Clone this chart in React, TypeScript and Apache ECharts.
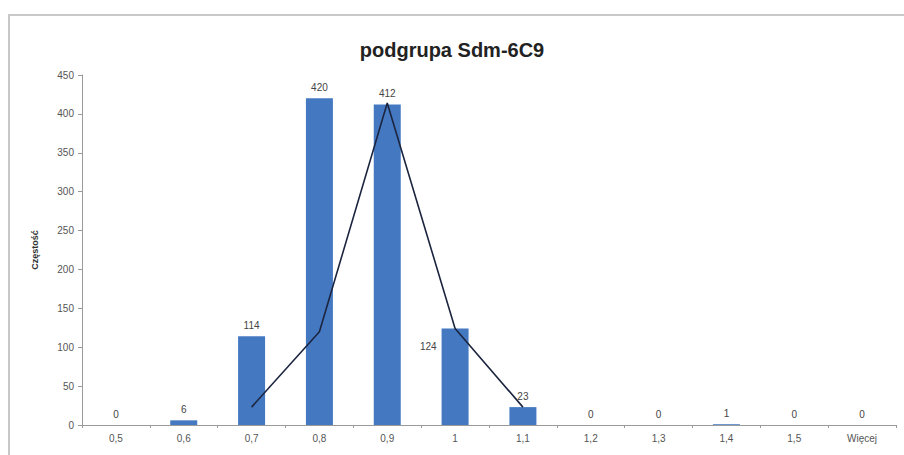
import React, { useEffect, useRef } from "react";
import * as echarts from "echarts";

const categories = ["0,5", "0,6", "0,7", "0,8", "0,9", "1", "1,1", "1,2", "1,3", "1,4", "1,5", "Więcej"];
const counts = [0, 6, 114, 420, 412, 124, 23, 0, 0, 1, 0, 0];
const lineValues: (number | null)[] = [null, null, 23, 120, 414, 124, 23, null, null, null, null, null];
const yTicks = { min: 0, max: 450, interval: 50 };
const titleText = "podgrupa Sdm-6C9";
const yName = "Częstość";

export default function App() {
  const ref = useRef<HTMLDivElement>(null);
  useEffect(() => {
    if (!ref.current) return;
    const chart = echarts.init(ref.current, null, { renderer: "svg" });
    const font = "'Liberation Sans', Arial, sans-serif";
    chart.setOption({
      animation: false,
      backgroundColor: "#ffffff",
      textStyle: { fontFamily: font },
      graphic: [
        {
          type: "rect",
          shape: { x: 9, y: 15, width: 1000, height: 1000 },
          style: { fill: "none", stroke: "#c8c8c8", lineWidth: 2 },
          silent: true,
        },
      ],
      title: {
        text: titleText,
        left: "center",
        top: 35,
        textStyle: { fontFamily: font, fontSize: 20, fontWeight: "bold", color: "#222" },
      },
      grid: { left: 82, right: 8, top: 75, bottom: 30 },
      xAxis: {
        type: "category",
        data: categories,
        axisLine: { lineStyle: { color: "#9a9a9a" } },
        axisTick: { show: true, alignWithLabel: false, length: 3, lineStyle: { color: "#9a9a9a" } },
        axisLabel: { color: "#555", fontSize: 10, margin: 8, fontFamily: font },
      },
      yAxis: {
        type: "value",
        min: yTicks.min,
        max: yTicks.max,
        interval: yTicks.interval,
        name: yName,
        nameLocation: "middle",
        nameGap: 43,
        nameRotate: 90,
        nameTextStyle: { fontSize: 9, fontWeight: "bold", color: "#333", fontFamily: font },
        axisLine: { show: true, lineStyle: { color: "#9a9a9a" } },
        axisTick: { show: true, length: 4, lineStyle: { color: "#9a9a9a" } },
        axisLabel: { color: "#555", fontSize: 10, margin: 8, fontFamily: font },
        splitLine: { show: false },
      },
      series: [
        {
          type: "bar",
          data: counts.map((v, i) =>
            i === 5
              ? {
                  value: v,
                  label: { position: [-5, 18], align: "right", verticalAlign: "middle" },
                }
              : v
          ),
          barWidth: 27,
          itemStyle: { color: "#4479c2" },
          label: {
            show: true,
            position: "top",
            distance: 6,
            fontSize: 10,
            color: "#444",
            fontFamily: font,
          },
        },
        {
          type: "line",
          data: lineValues,
          symbol: "none",
          connectNulls: false,
          lineStyle: { color: "#1c2540", width: 1.6 },
          z: 5,
        },
      ],
    });
    return () => chart.dispose();
  }, []);
  return (
    <div
      ref={ref}
      style={{ position: "fixed", left: 0, top: 0, width: 904, height: 455 }}
    />
  );
}
